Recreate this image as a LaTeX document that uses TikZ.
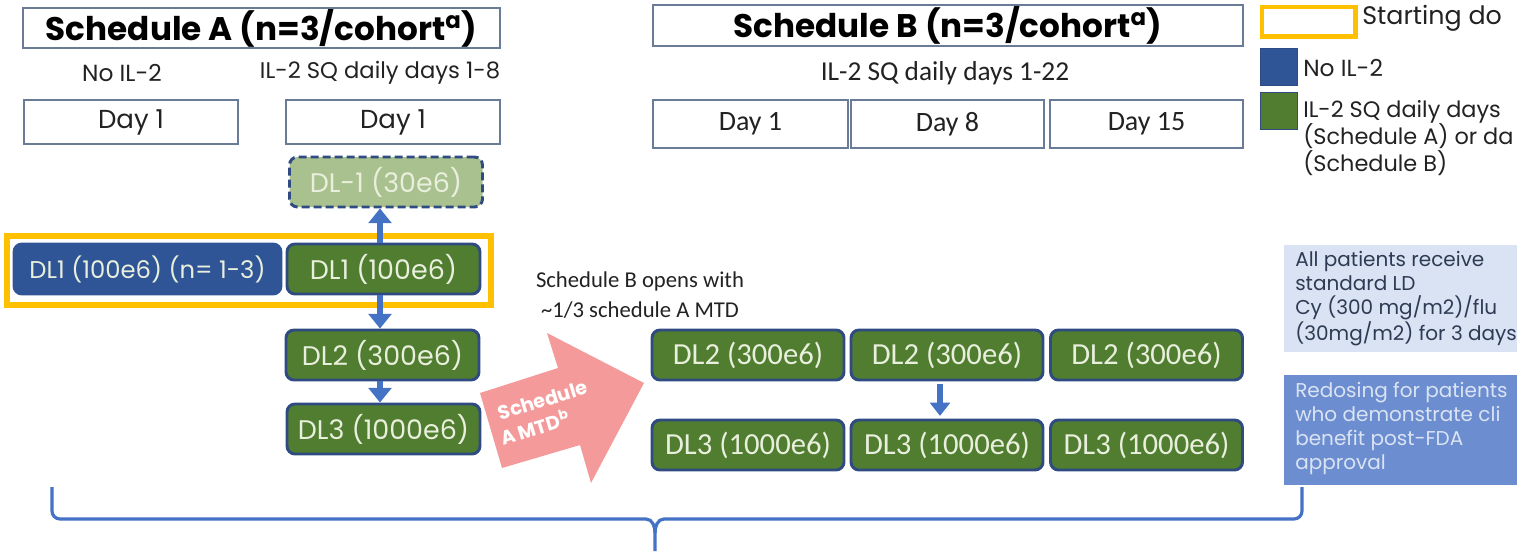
\documentclass[tikz,border=0pt]{standalone}
\usepackage{fontspec}
\setmainfont{Poppins}
\newfontfamily\carl{Carlito}
\usetikzlibrary{arrows.meta}
\definecolor{bord}{HTML}{2F4B82}
\definecolor{nofill}{HTML}{2F5597}
\definecolor{grfill}{HTML}{507D2F}
\definecolor{ltgr}{HTML}{A9C08F}
\definecolor{cream}{HTML}{E9EFDD}
\definecolor{arrblue}{HTML}{4472C4}
\definecolor{yel}{HTML}{FFC000}
\definecolor{pink}{HTML}{F49A9A}
\definecolor{ltblue}{HTML}{DAE3F3}
\definecolor{midblue}{HTML}{6C8ED0}
\definecolor{slate}{HTML}{2E3B55}
\definecolor{boxline}{HTML}{6A7B98}
\definecolor{txt}{HTML}{222222}
\tikzset{
  titlebox/.style={draw=boxline, line width=1.2pt, fill=white, minimum height=30pt, inner sep=0pt, font=\fontsize{24.5}{26}\selectfont\bfseries, text=black},
  daybox/.style={draw=boxline, line width=1pt, fill=white, minimum height=33pt, inner sep=0pt, text=txt},
  dlbox/.style={draw=bord, line width=2.2pt, rounded corners=6pt, fill=grfill, text=cream, minimum height=37.5pt, inner sep=0pt},
  dlA/.style={dlbox, minimum width=144.75pt, font=\fontsize{20.2}{22}\selectfont},
  dlB/.style={dlbox, minimum width=144pt, font=\carl\fontsize{23}{26}\selectfont},
  upar/.style={draw=arrblue, line width=4.5pt, -{Triangle[width=17pt,length=11pt]}},
  lbl/.style={inner sep=0pt, text=txt},
  mtdtext/.style={inner sep=0pt, text=white, rotate=17, font=\fontsize{14.5}{18}\selectfont\bfseries},
}
\begin{document}
\begin{tikzpicture}[x=0.75pt,y=-0.75pt]
\useasboundingbox (0,0) rectangle (1517,551);
\clip (0,0) rectangle (1517,551);
% Schedule A header
\node[titlebox, minimum width=357.75pt] (titleA) at (261.5,28) {Schedule A (n=3/cohort\textsuperscript{a})};
\node[lbl, font=\fontsize{17.5}{20}\selectfont] (noA) at (122,73) {No IL-2};
\node[lbl, font=\fontsize{17}{20}\selectfont] (ilA) at (380,73) {IL-2 SQ daily days 1-8};
\node[daybox, minimum width=160.5pt, font=\fontsize{19.5}{22}\selectfont] (dayA1) at (131,122) {Day 1};
\node[daybox, minimum width=160.5pt, font=\fontsize{19.5}{22}\selectfont] (dayA2) at (393,122) {Day 1};
% Schedule B header
\node[titlebox, minimum width=442.5pt, minimum height=30.75pt] (titleB) at (948,25.5) {Schedule B (n=3/cohort\textsuperscript{a})};
\node[lbl, font=\carl\fontsize{20.5}{24}\selectfont] (ilB) at (945,73) {IL-2 SQ daily days 1-22};
\node[daybox, minimum width=146.25pt, minimum height=36pt, font=\carl\fontsize{21}{24}\selectfont] (dayB1) at (750.5,124) {Day 1};
\node[daybox, minimum width=144.75pt, minimum height=36pt, font=\carl\fontsize{21}{24}\selectfont] (dayB8) at (947.5,124) {Day 8};
\node[daybox, minimum width=144.75pt, minimum height=36pt, font=\carl\fontsize{21}{24}\selectfont] (dayB15) at (1146.5,124) {Day 15};
% Legend
\node[draw=yel, line width=3.5pt, minimum width=70pt, minimum height=22pt, inner sep=0pt] (legY) at (1308.5,21.5) {};
\node[lbl, anchor=west, font=\fontsize{19}{22}\selectfont] (legYt) at (1362,18) {Starting do};
\node[fill=nofill, draw=bord, line width=0.8pt, minimum width=28pt, minimum height=28pt, inner sep=0pt] (legB) at (1279,67) {};
\node[lbl, anchor=west, font=\fontsize{17.5}{21}\selectfont] (legBt) at (1303,68) {No IL-2};
\node[fill=grfill, draw=bord, line width=0.8pt, minimum width=28pt, minimum height=28pt, inner sep=0pt] (legG) at (1279,111) {};
\node[lbl, anchor=north west, align=left, font=\fontsize{16.8}{20.5}\selectfont] (legGt) at (1303,100) {IL-2 SQ daily days\\(Schedule A) or da\\(Schedule B)};
% Schedule A dose levels
\node[dlA, fill=ltgr, dashed, dash pattern=on 6pt off 3pt, text=cream] (dlm1) at (386,182) {DL-1 (30e6)};
\node[dlbox, fill=nofill, draw=nofill, minimum width=200.25pt, font=\fontsize{18.2}{22}\selectfont] (dl1b) at (147.5,269) {DL1 (100e6) (n= 1-3)};
\node[dlA] (dl1g) at (383.5,269) {DL1 (100e6)};
\node[dlA] (dl2A) at (382.5,355) {DL2 (300e6)};
\node[dlA] (dl3A) at (383.5,429) {DL3 (1000e6)};
\node[draw=yel, line width=3.8pt, minimum width=363pt, minimum height=51.75pt, inner sep=0pt] (start) at (249,270.5) {};
\draw[upar] (dl1g.north -| 380,0) -- (dlm1.south -| 380,0);
\draw[upar] (dl1g.south -| 380,0) -- (dl2A.north -| 380,0);
\draw[upar] (dl2A.south -| 380,0) -- (dl3A.north -| 380,0);
% Transition
\node[lbl, align=center, font=\carl\fontsize{17}{22}\selectfont] (opens) at (640,295) {Schedule B opens with\\\textasciitilde1/3 schedule A MTD};
\fill[pink] (480,393) -- (558,368) -- (547,333) -- (644,383) -- (591,483) -- (580,445) -- (502,468) -- cycle;
\node[mtdtext] (mtd1) at (543,400) {Schedule};
\node[mtdtext] (mtd2) at (535,427) {A MTD\textsuperscript{b}};
% Schedule B dose levels
\node[dlB] (b21) at (748,355) {DL2 (300e6)};
\node[dlB] (b22) at (947,355) {DL2 (300e6)};
\node[dlB] (b23) at (1146.5,355) {DL2 (300e6)};
\node[dlB] (b31) at (748,445) {DL3 (1000e6)};
\node[dlB] (b32) at (947,445) {DL3 (1000e6)};
\node[dlB] (b33) at (1146.5,445) {DL3 (1000e6)};
\draw[draw=arrblue, line width=3.8pt, -{Triangle[width=15pt,length=10pt]}] ([yshift=-2pt]b22.south -| 940,0) -- ([yshift=2pt]b32.north -| 940,0);
% Info boxes
\node[fill=ltblue, minimum width=174.75pt, minimum height=80.25pt, inner sep=0pt] (ld) at (1400.5,298.5) {};
\node[lbl, anchor=north west, align=left, text=slate, font=\fontsize{15}{18}\selectfont] (ldt) at (1295,251) {All patients receive\\standard LD\\Cy (300 mg/m2)/flu\\(30mg/m2) for 3 days};
\node[fill=midblue, minimum width=174.75pt, minimum height=82.5pt, inner sep=0pt] (redo) at (1400.5,430) {};
\node[lbl, anchor=north west, align=left, text=ltblue, font=\fontsize{15}{18}\selectfont] (redot) at (1295,382) {Redosing for patients\\who demonstrate cli\\benefit post-FDA\\approval};
% Brace
\coordinate (bl) at (52,487);
\coordinate (br) at (1302,487);
\coordinate (bm) at (655,551);
\draw[arrblue, line width=2.4pt] (bl) -- (52,511) to[out=-90,in=180] (60,519) -- (646,519) to[out=0,in=90] (655,533) -- (bm);
\draw[arrblue, line width=2.4pt] (br) -- (1302,511) to[out=-90,in=0] (1294,519) -- (664,519) to[out=180,in=90] (655,533);
\end{tikzpicture}
\end{document}
